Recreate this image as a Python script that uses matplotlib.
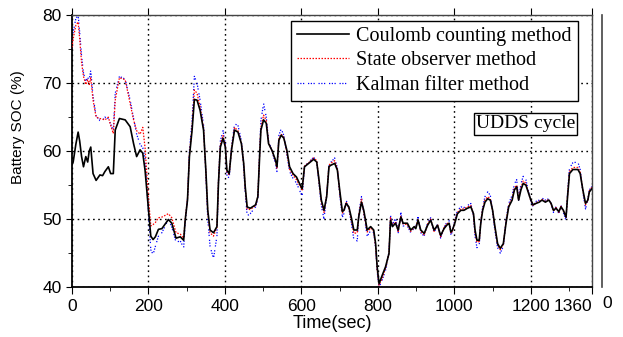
import numpy as np
import matplotlib.pyplot as plt
from matplotlib.lines import Line2D
from matplotlib.ticker import MultipleLocator

# time axis shared by the three estimates (sec)
t = [0, 3, 10, 16, 20, 25, 30, 36, 41, 45, 49, 55, 63, 73, 80, 86, 95, 101, 108, 113,
     124, 139, 152, 161, 169, 178, 185, 191, 200, 206, 212, 218, 226, 235, 252, 261, 272, 283, 292, 296,
     302, 307, 314, 320, 327, 335, 344, 350, 355, 361, 370, 379, 383, 388, 395, 401, 405, 411, 417, 425,
     434, 443, 449, 453, 458, 466, 480, 486, 491, 494, 501, 508, 514, 523, 532, 536, 541, 547, 554, 562,
     569, 578, 587, 597, 602, 608, 619, 632, 640, 645, 652, 659, 666, 672, 676, 687, 694, 700, 707, 711,
     717, 724, 731, 737, 746, 750, 757, 763, 772, 781, 789, 794, 798, 803, 811, 820, 829, 833, 838, 846,
     853, 860, 866, 877, 886, 895, 899, 905, 912, 921, 930, 938, 947, 956, 964, 973, 980, 986, 991, 995,
     1001, 1008, 1017, 1025, 1034, 1043, 1050, 1054, 1059, 1065, 1069, 1074, 1080, 1087, 1094, 1100, 1106, 1113, 1120, 1128,
     1135, 1142, 1151, 1157, 1163, 1168, 1174, 1180, 1187, 1194, 1200, 1206, 1213, 1222, 1229, 1238, 1247, 1253, 1259, 1266,
     1273, 1279, 1285, 1292, 1296, 1301, 1310, 1323, 1329, 1336, 1343, 1349, 1353, 1360]

coulomb = [58.0, 58.4, 61.0, 62.8, 61.5, 59.2, 57.7, 59.2, 58.4, 60.0, 60.6, 56.7, 55.7, 56.5, 56.4, 57.0, 57.7, 56.7, 56.7, 63.1,
           64.8, 64.6, 63.6, 61.1, 59.2, 60.2, 59.7, 57.2, 51.3, 47.5, 47.0, 47.4, 48.5, 48.6, 49.95, 49.4, 47.2, 47.4, 46.9, 49.85,
           52.8, 59.2, 63.1, 67.6, 67.5, 66.0, 63.1, 57.2, 51.3, 48.4, 48.0, 48.9, 55.3, 60.6, 61.9, 60.6, 57.2, 56.7, 60.1, 63.1,
           62.8, 61.1, 58.2, 54.75, 51.8, 51.6, 52.1, 53.3, 59.7, 63.1, 64.6, 64.1, 61.1, 60.1, 58.7, 57.7, 61.6, 62.35, 61.9, 60.1,
           57.7, 56.7, 56.2, 55.0, 54.5, 57.7, 58.2, 58.8, 58.4, 56.2, 52.8, 51.3, 53.3, 57.7, 57.9, 58.2, 57.2, 54.3, 51.1, 51.3,
           52.3, 51.8, 50.1, 48.4, 48.4, 50.4, 52.5, 51.3, 48.4, 48.9, 48.4, 46.4, 43.0, 40.5, 41.7, 43.0, 44.95, 49.85, 48.9, 49.4,
           48.4, 50.3, 49.4, 49.4, 48.4, 48.9, 48.6, 49.85, 48.4, 47.9, 49.1, 49.85, 48.4, 49.1, 47.6, 48.6, 49.1, 49.4, 48.1, 48.4,
           49.4, 50.8, 51.3, 51.3, 51.6, 51.8, 50.8, 48.4, 46.9, 46.9, 49.4, 51.3, 52.5, 53.0, 52.8, 51.3, 48.9, 46.4, 45.7, 46.4,
           49.4, 51.8, 52.8, 54.3, 54.75, 52.8, 54.3, 55.25, 55.0, 53.8, 52.8, 52.1, 52.3, 52.5, 52.8, 52.5, 52.8, 52.3, 51.3, 51.6,
           51.1, 51.8, 51.3, 50.3, 53.3, 56.7, 57.3, 57.3, 56.7, 54.3, 52.3, 52.8, 54.0, 54.5]

observer = [75.3, 76.5, 78.5, 79.0, 76.5, 73.0, 71.0, 69.8, 70.5, 69.8, 70.8, 67.5, 65.0, 64.8, 64.7, 64.6, 65.0, 63.8, 62.6, 67.5,
            70.8, 70.5, 67.0, 64.6, 63.0, 62.5, 63.5, 60.5, 53.0, 49.0, 49.2, 49.5, 50.2, 50.3, 50.8, 50.2, 48.0, 47.8, 47.2, 50.0,
            53.0, 59.5, 63.5, 69.0, 68.5, 66.5, 63.3, 57.0, 51.0, 48.0, 47.5, 48.8, 55.5, 61.0, 62.3, 60.8, 57.0, 56.5, 60.3, 63.5,
            63.0, 61.2, 58.0, 54.5, 51.5, 51.4, 52.0, 53.3, 60.0, 63.5, 65.3, 64.5, 61.3, 60.0, 58.5, 57.5, 61.8, 62.5, 62.0, 59.8,
            57.3, 56.5, 55.8, 54.8, 54.3, 57.8, 58.3, 59.0, 58.6, 56.0, 52.5, 51.0, 53.5, 57.9, 58.2, 58.6, 57.4, 54.0, 50.9, 51.2,
            52.5, 51.6, 49.8, 47.9, 48.0, 50.6, 52.9, 51.0, 48.1, 48.7, 48.2, 46.0, 42.6, 40.3, 41.3, 42.8, 45.0, 50.2, 49.0, 49.6,
            48.2, 50.5, 49.3, 49.2, 48.2, 48.8, 48.7, 50.0, 48.2, 47.7, 49.3, 50.0, 48.2, 49.2, 47.4, 48.8, 49.3, 49.5, 47.9, 48.3,
            49.6, 51.0, 51.5, 51.5, 51.8, 52.0, 50.6, 48.0, 46.6, 46.7, 49.6, 51.5, 52.8, 53.3, 53.0, 51.2, 48.7, 46.2, 45.5, 46.3,
            49.6, 52.0, 53.0, 54.6, 55.0, 52.8, 54.6, 55.6, 55.3, 53.8, 52.7, 52.0, 52.4, 52.6, 52.9, 52.6, 52.9, 52.2, 51.2, 51.7,
            51.0, 51.9, 51.2, 50.2, 53.5, 57.0, 57.6, 57.6, 56.9, 54.2, 52.1, 52.8, 54.2, 54.7]

kalman = [75.8, 77.5, 79.5, 80.0, 77.5, 74.0, 71.5, 70.3, 70.8, 70.5, 71.9, 68.0, 65.2, 64.5, 64.5, 65.0, 64.8, 64.0, 63.0, 68.5,
          71.0, 70.6, 67.5, 64.8, 62.5, 61.0, 60.5, 59.0, 51.0, 45.5, 44.8, 46.0, 47.5, 48.0, 50.0, 48.8, 46.6, 46.8, 45.8, 49.5,
          53.0, 60.0, 64.5, 71.0, 70.0, 67.5, 63.8, 56.5, 50.0, 46.0, 44.2, 47.5, 55.5, 61.5, 63.0, 61.0, 56.5, 56.0, 60.5, 64.0,
          63.8, 61.5, 57.5, 54.0, 50.5, 50.8, 51.8, 53.0, 60.5, 64.5, 67.0, 65.0, 61.5, 60.0, 58.2, 57.0, 62.3, 63.3, 62.3, 59.5,
          57.0, 56.0, 55.3, 54.0, 53.5, 57.7, 58.4, 59.1, 58.5, 55.8, 52.0, 50.0, 53.5, 58.0, 58.3, 59.0, 57.5, 53.7, 50.3, 50.8,
          52.8, 51.5, 49.3, 47.0, 46.8, 50.8, 53.3, 50.8, 47.5, 48.3, 48.0, 45.8, 42.3, 40.0, 41.0, 42.5, 45.2, 50.5, 49.2, 50.2,
          48.0, 51.0, 49.0, 49.0, 48.0, 48.7, 48.8, 50.4, 48.0, 47.5, 49.5, 50.2, 48.0, 49.3, 47.2, 48.8, 49.5, 49.8, 47.7, 48.2,
          49.8, 51.3, 51.8, 51.7, 52.0, 52.3, 50.5, 47.5, 45.8, 46.2, 49.6, 51.8, 53.3, 54.0, 53.5, 51.0, 48.3, 45.8, 45.0, 46.0,
          49.8, 52.3, 53.5, 55.2, 55.8, 52.8, 55.2, 56.3, 55.8, 54.0, 52.6, 51.8, 52.6, 52.8, 53.1, 52.8, 53.0, 52.3, 51.0, 51.9,
          50.8, 52.0, 51.0, 49.8, 53.8, 57.5, 58.3, 58.4, 57.3, 54.0, 51.5, 52.8, 54.3, 54.8]

labels = ['Coulomb counting method', 'State observer method', 'Kalman filter method']
x_ticks = [0, 200, 400, 600, 800, 1000, 1200, 1360]
y_ticks = [40, 50, 60, 70, 80]

fig = plt.figure(figsize=(6.23, 3.37), dpi=100)
ax = fig.add_axes([0.1156, 0.148, 0.8347, 0.807])

kal, = ax.plot(t, kalman, color='blue', lw=0.9, ls=(0, (1, 1.2, 1, 1.2, 1, 3)), zorder=2)
obs, = ax.plot(t, observer, color='red', lw=0.9, ls=(0, (1.2, 1.2)), zorder=3)
cc, = ax.plot(t, coulomb, color='black', lw=1.2, zorder=4)

ax.set_xlim(0, 1360)
ax.set_ylim(40, 80)
ax.set_xticks(x_ticks)
ax.set_yticks(y_ticks)
ax.xaxis.set_minor_locator(MultipleLocator(100))
ax.yaxis.set_minor_locator(MultipleLocator(5))
ax.grid(True, which='major', color='black', ls=(0, (1.2, 2.5)), lw=1.0)
ax.tick_params(which='both', direction='out', labelsize=12.5, color='black')
ax.tick_params(which='major', length=4)
ax.tick_params(which='minor', length=3)
ax.tick_params(axis='x', which='major', top=True, length=5)
for lab in ax.get_xticklabels() + ax.get_yticklabels():
    lab.set_family('Liberation Sans')
ax.get_xticklabels()[-1].set_ha('right')
for s in ax.spines.values():
    s.set_linewidth(1.3)
ax.spines['top'].set_color('#444444')
ax.spines['right'].set_color('#444444')
ax.spines['top'].set_linewidth(1.0)
ax.spines['right'].set_linewidth(1.0)

ax.set_xlabel('Time(sec)', family='Liberation Sans', fontsize=13, labelpad=1)
ax.set_ylabel('Battery SOC (%)', family='Liberation Sans', fontsize=11)
ax.yaxis.set_label_coords(-0.09, 0.59)

leg = ax.legend([cc, obs, kal], labels, loc='upper right', bbox_to_anchor=(0.973, 0.978),
                borderaxespad=0, fancybox=False, framealpha=1, edgecolor='black',
                prop={'family': 'Liberation Serif', 'size': 14.5}, handlelength=2.6,
                handletextpad=0.35, labelspacing=0.25, borderpad=0.3)
leg.get_frame().set_linewidth(1.0)

ax.text(0.872, 0.601, 'UDDS cycle', transform=ax.transAxes, ha='center', va='center',
        family='Liberation Serif', fontsize=14,
        bbox=dict(boxstyle='square,pad=0.12', fc='white', ec='black', lw=1.0))

# edge of the neighbouring panel
fig.add_artist(Line2D([602 / 623, 602 / 623], [1 - 15 / 337, 1 - 287 / 337], color='#444444', lw=1.2))
fig.text(607 / 623, 1 - 303 / 337, '0', ha='center', va='center', family='Liberation Sans', fontsize=12.5)

fig.savefig('out.png', dpi=100)
